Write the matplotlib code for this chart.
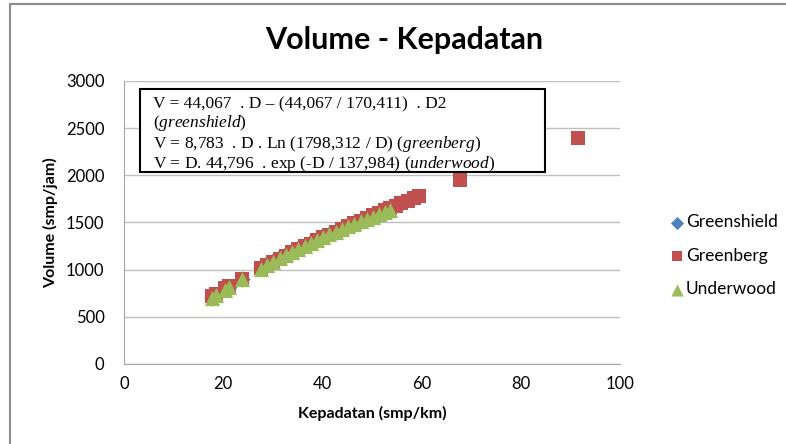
import matplotlib.pyplot as plt
from matplotlib.patches import Rectangle

plt.rcParams['font.family'] = ['Lato', 'DejaVu Sans']
plt.rcParams['mathtext.fontset'] = 'custom'
plt.rcParams['mathtext.rm'] = 'Liberation Serif'
plt.rcParams['mathtext.it'] = 'Liberation Serif:italic'

# Density (smp/km) and volume (smp/jam)
density = [17.8, 18.6, 20.4, 21.2, 23.8,
           27.6, 28.8, 30.1, 31.4, 32.6, 33.9, 35.1, 36.4, 37.6, 38.9, 40.2,
           41.4, 42.7, 43.9, 45.2, 46.4, 47.7, 48.9, 50.2, 51.4, 52.7, 53.6]
greenshield = [702, 730, 791, 818, 902,
               1019, 1055, 1092, 1129, 1162, 1197, 1228, 1261, 1291, 1323, 1354,
               1381, 1410, 1436, 1464, 1488, 1514, 1537, 1561, 1582, 1604, 1619]
underwood = [701, 728, 788, 815, 897,
             1012, 1047, 1084, 1120, 1153, 1188, 1219, 1253, 1283, 1315, 1346,
             1374, 1404, 1431, 1459, 1485, 1512, 1537, 1563, 1586, 1611, 1628]

density_gb = density + [54.8, 55.9, 57.2, 58.4, 59.4, 67.7, 91.5]
greenberg = [722, 747, 803, 827, 904,
             1013, 1046, 1081, 1116, 1148, 1182, 1214, 1247, 1277, 1310, 1342,
             1371, 1403, 1432, 1462, 1491, 1521, 1548, 1578, 1605, 1634, 1654,
             1680, 1704, 1732, 1758, 1779, 1950, 2393]

fig = plt.figure(figsize=(7.86, 4.44), dpi=100)
ax = fig.add_axes([0.1578, 0.1802, 0.6310, 0.6374])

ax.scatter(density, greenshield, marker='D', s=70, color='#4F81BD', linewidths=0,
           label='Greenshield', zorder=3)
ax.scatter(density_gb, greenberg, marker='s', s=95, color='#C0504D', linewidths=0,
           label='Greenberg', zorder=4)
ax.scatter(density, underwood, marker='^', s=120, color='#9BBB59', linewidths=0,
           label='Underwood', zorder=5)

ax.set_xlim(0, 100)
ax.set_ylim(0, 3000)
ax.set_xticks(range(0, 101, 20))
ax.set_yticks(range(0, 3001, 500))
ax.yaxis.grid(True, color='#BFBFBF', linewidth=1)
ax.set_axisbelow(True)
for side in ['top', 'right']:
    ax.spines[side].set_visible(False)
for side in ['left', 'bottom']:
    ax.spines[side].set_color('#A6A6A6')
ax.tick_params(length=0, labelsize=12, colors='#000000')
ax.tick_params(axis='y', pad=14)
ax.tick_params(axis='x', pad=9)

ax.set_xlabel('Kepadatan (smp/km)', fontsize=11.5, fontweight='bold', labelpad=10)
ax.set_ylabel('Volume (smp/jam)', fontsize=11.5, fontweight='bold', labelpad=6)
fig.text(0.514, 0.909, 'Volume - Kepadatan', ha='center', va='center',
         fontsize=22, fontweight='bold')

# equation box
fig.patches.append(Rectangle((0.1781, 0.6126), 0.5153, 0.1869, transform=fig.transFigure,
                             facecolor='white', edgecolor='black', linewidth=1.5, zorder=10))
eq = ("V = 44,067  . D – (44,067 / 170,411)  . D2\n"
      "($\\mathit{greenshield}$)\n"
      "V = 8,783  . D . Ln (1798,312 / D) ($\\mathit{greenberg}$)\n"
      "V = D. 44,796  . exp (-D / 137,984) ($\\mathit{underwood}$)")
fig.text(0.195, 0.782, eq, family='Liberation Serif', fontsize=12.5, va='top',
         linespacing=1.03, zorder=11)

# outer chart border
fig.patches.append(Rectangle((0.013, -0.05), 1.1, 1.04, transform=fig.transFigure,
                             fill=False, edgecolor='#8C8C8C', linewidth=1.5))

fig.legend(loc='center left', bbox_to_anchor=(0.842, 0.424), frameon=False,
           fontsize=12.5, handletextpad=0.1, labelspacing=1.0, borderaxespad=0,
           handlelength=0.9, scatterpoints=1, markerscale=0.8)

fig.savefig('out.png', dpi=100)
